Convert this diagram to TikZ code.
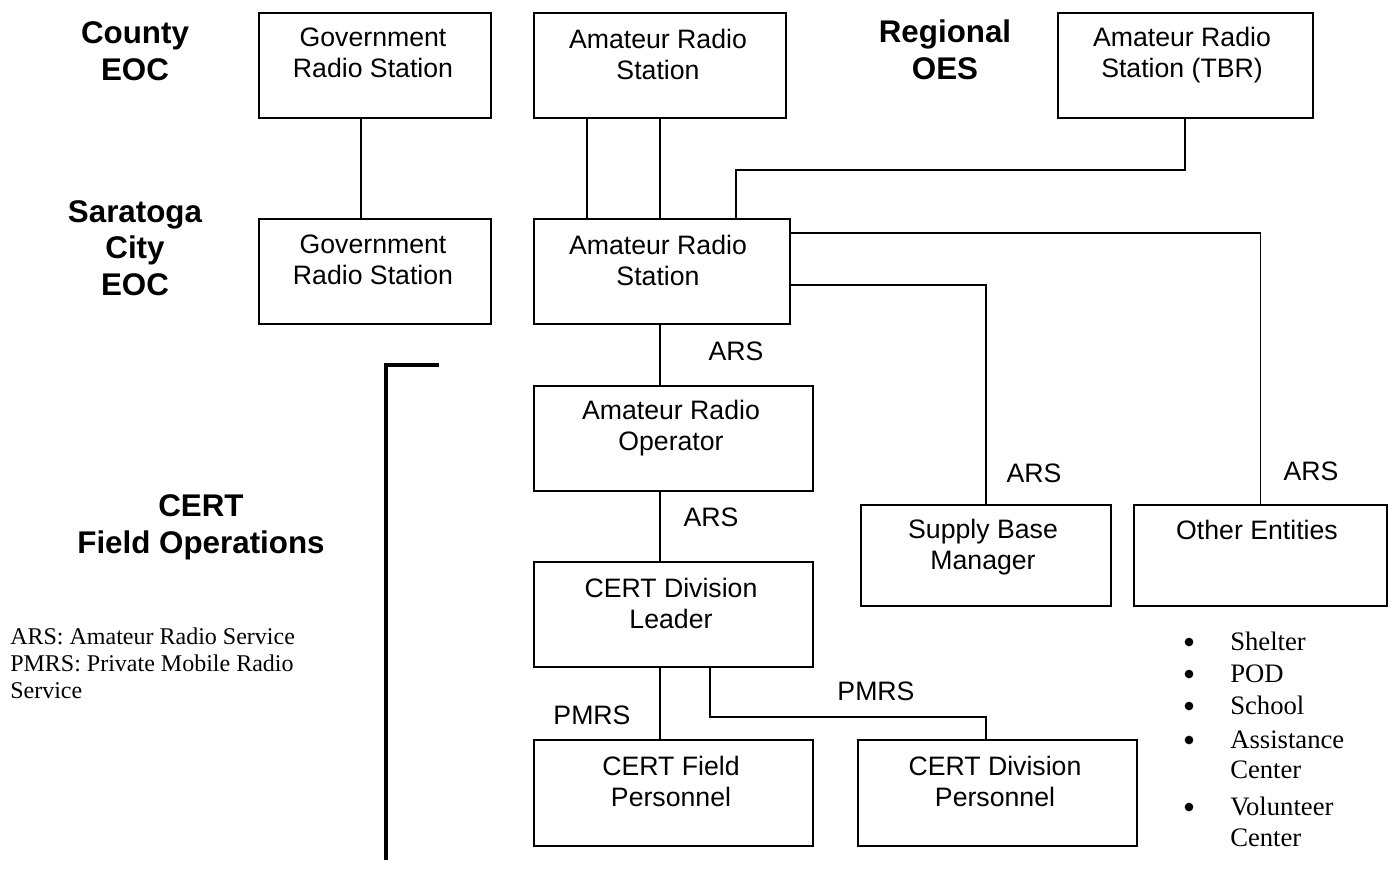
\documentclass[tikz,border=0pt]{standalone}
\usepackage{fontspec}
\setmainfont{Liberation Sans}
\newfontfamily\timesf{Liberation Serif}
\begin{document}
\begin{tikzpicture}[x=0.75pt,y=-0.75pt,
  bx/.style 2 args={draw=black,line width=1.5pt,rectangle,inner sep=0pt,anchor=north west,
     minimum width=#1*0.75pt,minimum height=#2*0.75pt},
  bt/.style={align=center,inner sep=0pt,font=\fontsize{20}{23.25}\selectfont},
  hd/.style={align=center,inner sep=0pt,font=\fontsize{23.5}{27.5}\selectfont\bfseries},
  lab/.style={inner sep=0pt,font=\fontsize{20}{24}\selectfont},
  conn/.style={line width=1pt},
  lg/.style={align=left,inner sep=0pt,anchor=north west,font=\fontsize{18}{20.25}\selectfont\timesf},
  bl/.style={inner sep=0pt,anchor=base west,font=\fontsize{20}{24}\selectfont\timesf},
  dot/.style={circle,fill=black,inner sep=0pt,minimum size=6.5pt}]
\useasboundingbox (0,0) rectangle (1389,869);

% boxes
\node[bx={232}{105}] (gov1) at (258,12) {};
\node[bx={252}{105}] (ars1) at (533,12) {};
\node[bx={255}{105}] (tbr) at (1057,12) {};
\node[bx={232}{105}] (gov2) at (258,218) {};
\node[bx={256}{105}] (ars2) at (533,218) {};
\node[bx={279}{105}] (op) at (533,385) {};
\node[bx={279}{105}] (leader) at (533,561) {};
\node[bx={279}{106}] (field) at (533,739) {};
\node[bx={279}{106}] (divp) at (857,739) {};
\node[bx={250}{101}] (supply) at (860,504) {};
\node[bx={253}{101}] (other) at (1133,504) {};

% box texts
\node[bt] (tgov1) at (373,53) {Government\\Radio Station};
\node[bt] (tars1) at (658,54) {Amateur Radio\\Station};
\node[bt] (ttbr) at (1182,55) {Amateur Radio\\Station (TBR)};
\node[bt] (tgov2) at (373,260) {Government\\Radio Station};
\node[bt] (tars2) at (658,260) {Amateur Radio\\Station};
\node[bt] (top) at (671,428) {Amateur Radio\\Operator};
\node[bt] (tleader) at (671,603) {CERT Division\\Leader};
\node[bt] (tfield) at (671,781) {CERT Field\\Personnel};
\node[bt] (tdivp) at (995,781) {CERT Division\\Personnel};
\node[bt] (tsupply) at (983,547) {Supply Base\\Manager};
\node[bt] (tother) at (1257,530) {Other Entities};

% headings
\node[hd] (h1) at (135,51) {County\\EOC};
\node[hd] (h2) at (945,50) {Regional\\OES};
\node[hd] (h3) at (135,248) {Saratoga\\City\\EOC};
\node[hd] (h4) at (201,527) {CERT\\Field Operations};

% helper coordinates
\coordinate (xg) at (361,0);
\coordinate (xa) at (587,0);
\coordinate (k1) at (1185,0);
\coordinate (k2) at (736,170);
\coordinate (k3) at (0,233);
\coordinate (k4) at (0,285);
\coordinate (k5) at (710,0);
\coordinate (k6) at (986,717);
\coordinate (xc) at (660,0);
\coordinate (L1) at (439,365);
\coordinate (L2) at (386,860);

% connectors
\draw[conn] (gov1.south -| xg) -- (gov2.north -| xg);
\draw[conn] (ars1.south -| xa) -- (ars2.north -| xa);
\draw[conn] (ars1.south -| xc) -- (ars2.north -| xc);
\draw[conn] (tbr.south -| k1) |- (k2) -- (ars2.north -| k2);
\draw[conn] (ars2.east |- k3) -| (other.north);
\draw[conn] (ars2.east |- k4) -| (supply.north);
\draw[conn] (ars2.south -| xc) -- (op.north -| xc);
\draw[conn] (op.south -| xc) -- (leader.north -| xc);
\draw[conn] (leader.south -| xc) -- (field.north -| xc);
\draw[conn] (leader.south -| k5) |- (k6) -- (divp.north -| k6);
\draw[line width=3pt] (L1) -| (L2);

% connector labels
\node[lab] (l1) at (736,351) {ARS};
\node[lab] (l2) at (711,517) {ARS};
\node[lab] (l3) at (1034,473) {ARS};
\node[lab] (l4) at (1311,471) {ARS};
\node[lab] (l5) at (592,715) {PMRS};
\node[lab] (l6) at (876,691) {PMRS};

% legend
\node[lg] (legend) at (10,628) {ARS: Amateur Radio Service\\PMRS: Private Mobile Radio\\Service};

% bullet list
\foreach \n/\y/\t in {1/650/Shelter,2/682/POD,3/714/School,4/748/Assistance,6/815/Volunteer}{
  \node[dot] (b\n) at (1189,\y-8) {};
  \node[bl] (t\n) at (1230,\y) {\t};
}
\node[bl] (t5) at (1230,778) {Center};
\node[bl] (t7) at (1230,846) {Center};
\end{tikzpicture}
\end{document}
